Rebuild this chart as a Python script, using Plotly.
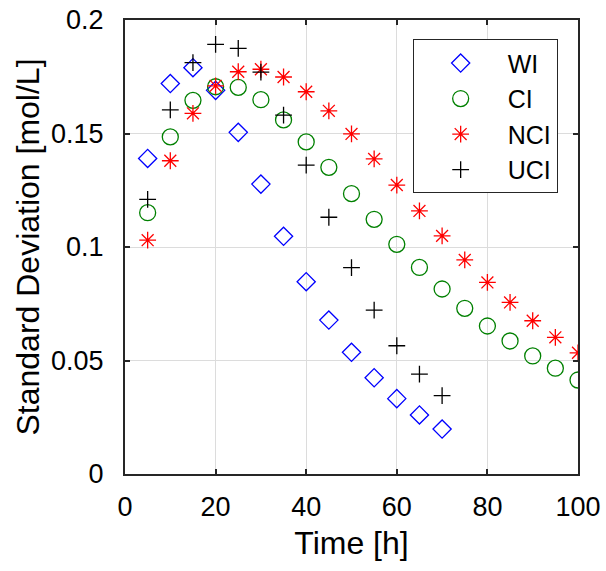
import plotly.graph_objects as go

# ---- data ----
t_wi = [5, 10, 15, 20, 25, 30, 35, 40, 45, 50, 55, 60, 65, 70]
wi = [0.139, 0.172, 0.179, 0.169, 0.1505, 0.1277, 0.1047, 0.0847, 0.0678, 0.0536, 0.0424, 0.0332, 0.026, 0.0198]

t_ci = [5, 10, 15, 20, 25, 30, 35, 40, 45, 50, 55, 60, 65, 70, 75, 80, 85, 90, 95, 100]
ci = [0.1151, 0.1485, 0.1646, 0.1706, 0.1703, 0.1649, 0.156, 0.1463, 0.1351, 0.1235, 0.1122, 0.1012,
      0.091, 0.0815, 0.073, 0.0652, 0.0586, 0.052, 0.0466, 0.0414]

t_nci = [5, 10, 15, 20, 25, 30, 35, 40, 45, 50, 55, 60, 65, 70, 75, 80, 85, 90, 95, 100]
nci = [0.103, 0.138, 0.1589, 0.171, 0.1772, 0.1783, 0.1749, 0.1684, 0.16, 0.1498, 0.1388, 0.1273,
       0.1159, 0.1049, 0.0943, 0.0844, 0.0756, 0.0675, 0.0602, 0.0534]

t_uci = [5, 10, 15, 20, 25, 30, 35, 40, 45, 50, 55, 60, 65, 70]
uci = [0.121, 0.1604, 0.1812, 0.1893, 0.1875, 0.177, 0.1581, 0.1361, 0.1131, 0.0909, 0.0722, 0.0565, 0.044, 0.0345]

x_ticks = [0, 20, 40, 60, 80, 100]
y_ticks = [0, 0.05, 0.1, 0.15, 0.2]
y_tick_text = ["0", "0.05", "0.1", "0.15", "0.2"]

FONT = "Liberation Sans, Arial, sans-serif"
AX = "#262626"

fig = go.Figure()
fig.add_trace(go.Scatter(x=t_wi, y=wi, mode="markers", name="WI",
                         marker=dict(symbol="diamond-open", size=14, color="#0000FF",
                                     line=dict(width=1.3, color="#0000FF"))))
fig.add_trace(go.Scatter(x=t_ci, y=ci, mode="markers", name="CI",
                         marker=dict(symbol="circle-open", size=16, color="#008000",
                                     line=dict(width=1.3, color="#008000"))))
fig.add_trace(go.Scatter(x=t_nci, y=nci, mode="markers", name="NCI",
                         marker=dict(symbol="asterisk-open", size=14, color="#FF0000",
                                     line=dict(width=1.3, color="#FF0000"))))
fig.add_trace(go.Scatter(x=t_uci, y=uci, mode="markers", name="UCI",
                         marker=dict(symbol="cross-thin-open", size=12, color="#000000",
                                     line=dict(width=1.3, color="#000000"))))

fig.update_layout(
    width=606, height=571,
    margin=dict(l=125, r=28, t=20, b=97, autoexpand=False),
    paper_bgcolor="white", plot_bgcolor="white",
    font=dict(family=FONT, color=AX),
    showlegend=True,
    legend=dict(x=0.635, y=0.9575, xanchor="left", yanchor="top",
                bgcolor="white", bordercolor=AX, borderwidth=1,
                font=dict(size=25, color="#000000", family=FONT),
                itemwidth=84),
)
fig.update_xaxes(range=[0, 100], tickvals=x_ticks, ticks="inside", ticklen=5, tickwidth=1.5,
                 tickcolor=AX, showline=True, linecolor=AX, linewidth=2, mirror="ticks",
                 showgrid=True, gridcolor="#dcdcdc", gridwidth=1, zeroline=False,
                 tickfont=dict(size=27, color="#000000"), ticklabelstandoff=8,
                 title=dict(text="Time [h]", font=dict(size=32, color="#000000"), standoff=10))
fig.update_yaxes(range=[0, 0.2], tickvals=y_ticks, ticktext=y_tick_text, ticks="inside", ticklen=5,
                 tickwidth=1.5, tickcolor=AX, showline=True, linecolor=AX, linewidth=2, mirror="ticks",
                 showgrid=True, gridcolor="#dcdcdc", gridwidth=1, zeroline=False,
                 tickfont=dict(size=27, color="#000000"), ticklabelstandoff=14,
                 title=dict(text="Standard Deviation [mol/L]", font=dict(size=32, color="#000000"), standoff=2))

fig.write_html("out.html")
